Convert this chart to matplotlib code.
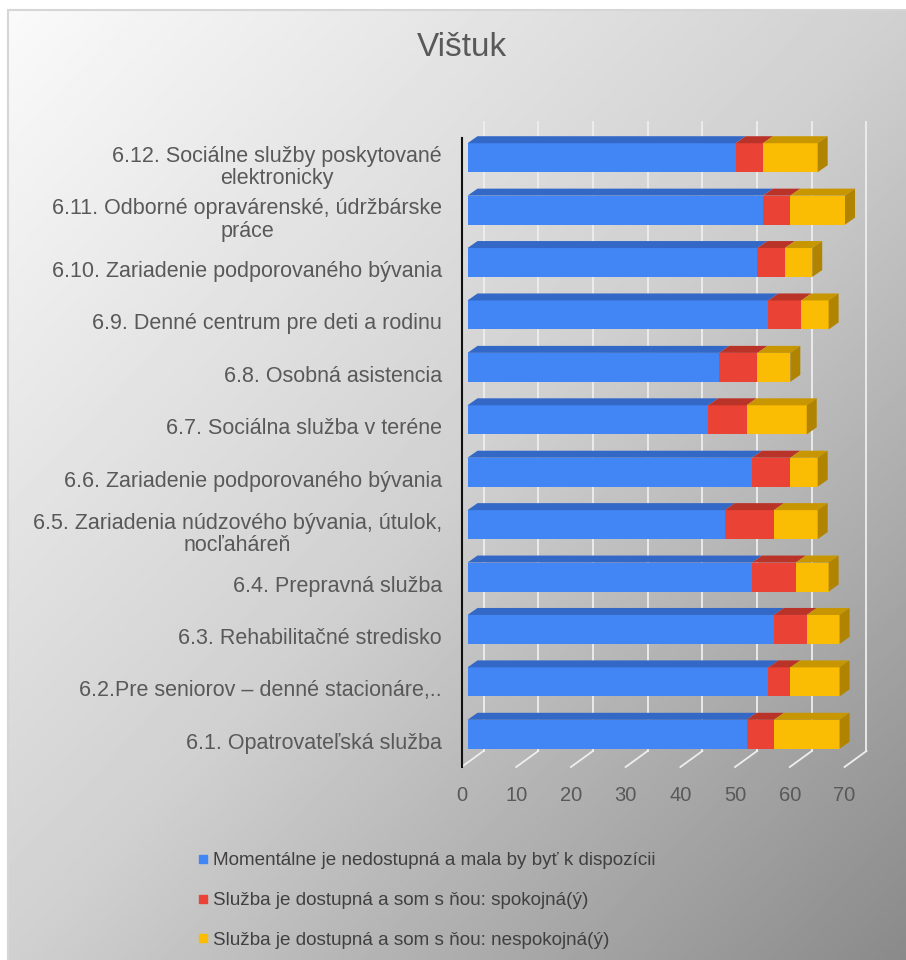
import numpy as np
import matplotlib
matplotlib.use('Agg')
import matplotlib.pyplot as plt
from matplotlib.patches import Polygon, Rectangle
from matplotlib.lines import Line2D
from matplotlib.transforms import ScaledTranslation

plt.rcParams['font.family'] = ['Liberation Sans', 'DejaVu Sans']

# data, bottom (6.1) to top (6.12)
categories = [
    '6.1. Opatrovateľská služba',
    '6.2.Pre seniorov – denné stacionáre,..',
    '6.3. Rehabilitačné stredisko',
    '6.4. Prepravná služba',
    '6.5. Zariadenia núdzového bývania, útulok,\nnocľaháreň',
    '6.6. Zariadenie podporovaného bývania',
    '6.7. Sociálna služba v teréne',
    '6.8. Osobná asistencia',
    '6.9. Denné centrum pre deti a rodinu',
    '6.10. Zariadenie podporovaného bývania',
    '6.11. Odborné opravárenské, údržbárske\npráce',
    '6.12. Sociálne služby poskytované\nelektronicky',
]
unavailable = [51, 55, 56, 52, 47, 52, 44, 46, 55, 53, 54, 49]
satisfied = [5, 4, 6, 8, 9, 7, 7, 7, 6, 5, 5, 5]
unsatisfied = [12, 9, 6, 6, 8, 5, 11, 6, 5, 5, 10, 10]
series_names = [
    'Momentálne je nedostupná a mala by byť k dispozícii',
    'Služba je dostupná a som s ňou: spokojná(ý)',
    'Služba je dostupná a som s ňou: nespokojná(ý)',
]
xticks = [0, 10, 20, 30, 40, 50, 60, 70]

front_cols = ['#4285F4', '#EA4335', '#FBBC04']
top_cols = ['#3468C6', '#BA3329', '#C89600']
side_col = '#B08400'
text_col = '#595959'

W, H = 906, 960
fig = plt.figure(figsize=(W / 100, H / 100), dpi=100)

# gradient background
bg = fig.add_axes([0, 0, 1, 1], zorder=-10)
bg.set_axis_off()
bg.set_xlim(0, 1)
bg.set_ylim(0, 1)
u, v = np.meshgrid(np.linspace(0, 1, 400), np.linspace(0, 1, 400))
shade = np.interp((u + v) / 2, [0, 0.5, 1], [250, 208, 138]) / 255
bg.imshow(shade, cmap='gray', vmin=0, vmax=1, origin='upper', aspect='auto',
          extent=[8 / W, 1, 0, 950 / H])
bg.add_patch(Rectangle((8 / W, -0.01), 1, 950 / H + 0.01, fill=False,
                       ec='#d6d6d6', lw=1.5))

ax = fig.add_axes([461.5 / W, (H - 767) / H, 383 / W, 629 / H])
ax.patch.set_alpha(0)
ax.set_xlim(0, 70)
ax.set_ylim(-0.5, len(categories) - 0.5)
for s in ['top', 'right', 'bottom']:
    ax.spines[s].set_visible(False)
ax.spines['left'].set_color('#111111')
ax.spines['left'].set_linewidth(1.5)

ux = 383 / 70
uy = 629 / len(categories)

def shift(dx, dy):
    return ax.transData + ScaledTranslation(dx / 100, dy / 100, fig.dpi_scale_trans)

# back wall gridlines and floor lines
back = shift(22, 16)
for k in xticks:
    ax.plot([k, k], [-0.5, len(categories) - 0.5], color='#eeeeee', lw=1.3,
            transform=back, zorder=1, clip_on=False)
    ax.plot([k, k + 22 / ux], [-0.5, -0.5 + 16 / uy], color='#eeeeee', lw=1.3,
            zorder=1, clip_on=False)

# 3D stacked bars
front = shift(6, 6.5)
h = 0.553
ddx = 10 / ux
ddy = 7 / uy
for i in range(len(categories)):
    segs = [unavailable[i], satisfied[i], unsatisfied[i]]
    left = 0
    y0, y1 = i - h / 2, i + h / 2
    for j, w in enumerate(segs):
        r = left + w
        ax.add_patch(Rectangle((left, y0), w, h, fc=front_cols[j], ec='none',
                               transform=front, zorder=3, clip_on=False))
        ax.add_patch(Polygon([(left, y1), (r, y1), (r + ddx, y1 + ddy),
                              (left + ddx, y1 + ddy)], closed=True,
                             fc=top_cols[j], ec='none', transform=front,
                             zorder=3, clip_on=False))
        left = r
    ax.add_patch(Polygon([(left, y0), (left, y1), (left + ddx, y1 + ddy),
                          (left + ddx, y0 + ddy)], closed=True, fc=side_col,
                         ec='none', transform=front, zorder=3, clip_on=False))

ax.set_xticks(xticks)
ax.set_xticklabels([str(t) for t in xticks])
ax.set_yticks(range(len(categories)))
ax.set_yticklabels(categories, linespacing=1.1)
for lbl in ax.get_yticklabels():
    lbl.set_multialignment('center')
ax.tick_params(axis='x', length=0, pad=14, labelsize=14.5, labelcolor=text_col)
ax.tick_params(axis='y', length=0, pad=14, labelsize=15.5, labelcolor=text_col)

fig.text(462 / W, 1 - 47 / H, 'Vištuk', ha='center', va='center',
         fontsize=24, color=text_col)

handles = [Line2D([], [], marker='s', linestyle='none', color=c, markersize=5.5)
           for c in front_cols]
fig.legend(handles, series_names, loc='upper left',
           bbox_to_anchor=(197 / W, 1 - 852 / H), frameon=False, fontsize=13.6,
           handlelength=0.6, handletextpad=0.25, labelspacing=1.2,
           borderpad=0, borderaxespad=0, labelcolor='#404040')

fig.savefig('out.png', dpi=100)
